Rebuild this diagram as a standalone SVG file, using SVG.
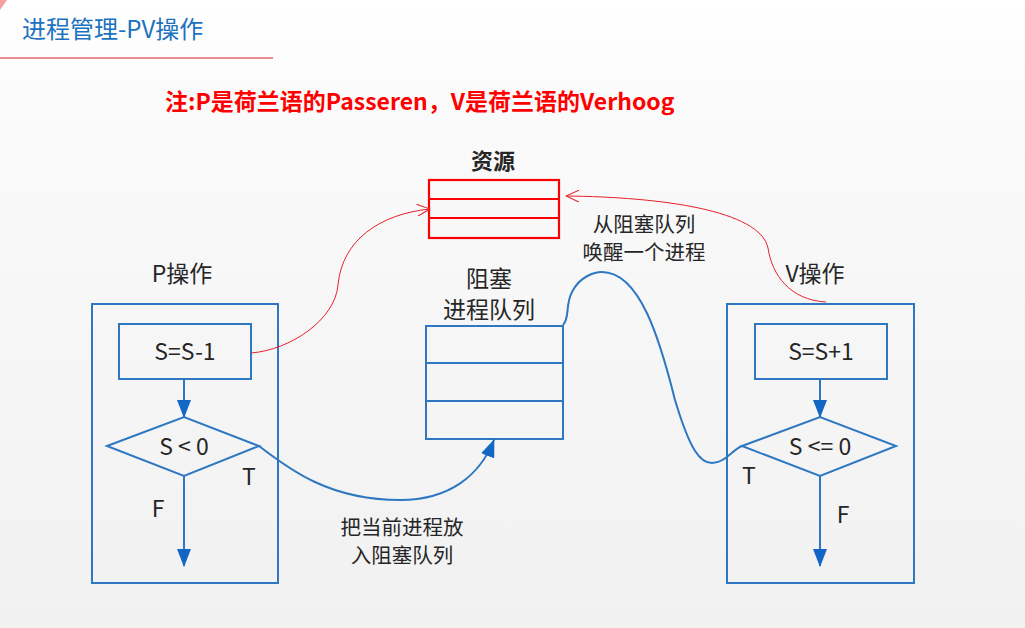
<svg xmlns="http://www.w3.org/2000/svg" width="1025" height="628" viewBox="0 0 1025 628">
<style>
.t{font-family:"Noto Sans CJK SC","Noto Sans",sans-serif;fill:#262626;font-size:23px;text-anchor:middle}
.s{font-size:20.5px}
.b{fill:none;stroke:#2e78c2;stroke-width:2}
.r{fill:none;stroke:#ff0000;stroke-width:2.2}
.rc{fill:none;stroke:#e8202a;stroke-width:1}
.bc{fill:none;stroke:#2e78c2;stroke-width:2}
</style>
<defs>
<linearGradient id="bg" x1="0" y1="0" x2="0" y2="1">
<stop offset="0" stop-color="#ffffff"/>
<stop offset="0.2" stop-color="#fafafa"/>
<stop offset="1" stop-color="#f1f1f1"/>
</linearGradient>
<marker id="ab" viewBox="0 0 18 14" refX="17" refY="7" markerWidth="18" markerHeight="14" markerUnits="userSpaceOnUse" orient="auto">
<path d="M0,0 L18,7 L0,14 z" fill="#1366c4"/>
</marker>
<marker id="ar" viewBox="0 0 14 12" refX="13" refY="6" markerWidth="14" markerHeight="12" markerUnits="userSpaceOnUse" orient="auto">
<path d="M0,0 L13,6 L0,12" fill="none" stroke="#e8202a" stroke-width="1"/>
</marker>
</defs>
<rect width="1025" height="628" fill="url(#bg)"/>
<path d="M0,0 L7,0 L0,10 z" fill="#f4a0a0"/>
<text x="22" y="38" style="font-family:'Noto Sans CJK SC',sans-serif;font-size:24px;fill:#1a72c0">进程管理-PV操作</text>
<line x1="0" y1="58" x2="273" y2="58" stroke="#e02020" stroke-width="1.2"/>
<text x="165" y="110" style="font-family:'Noto Sans CJK SC',sans-serif;font-size:23px;font-weight:bold;fill:#ff0000">注:P是荷兰语的Passeren，V是荷兰语的Verhoog</text>

<g id="resource">
<text class="t" x="493" y="169" font-weight="bold" style="font-size:22px">资源</text>
<rect class="r" x="429" y="180" width="130" height="58"/>
<line class="r" x1="429" y1="199" x2="559" y2="199"/>
<line class="r" x1="429" y1="218" x2="559" y2="218"/>
</g>

<g id="p-op">
<text class="t" x="182" y="282">P操作</text>
<rect class="b" x="92" y="304" width="186" height="279"/>
<rect class="b" x="119" y="324" width="132" height="55"/>
<text class="t" x="185" y="360">S=S-1</text>
<polygon class="b" points="107,446 184,417 259,446 184,476"/>
<text class="t" x="184" y="455">S &lt; 0</text>
<text class="t" x="249" y="485">T</text>
<text class="t" x="158" y="517">F</text>
</g>

<g id="queue">
<text class="t" x="489" y="287">阻塞</text>
<text class="t" x="489" y="318">进程队列</text>
<rect class="b" x="426" y="326" width="137" height="113"/>
<line class="b" x1="426" y1="363" x2="563" y2="363"/>
<line class="b" x1="426" y1="401" x2="563" y2="401"/>
</g>

<g id="v-op">
<text class="t" x="815" y="282">V操作</text>
<rect class="b" x="727" y="304" width="187" height="279"/>
<rect class="b" x="755" y="324" width="132" height="55"/>
<text class="t" x="821" y="360">S=S+1</text>
<polygon class="b" points="742,446 820,417 896,446 820,476"/>
<text class="t" x="820" y="455">S &lt;= 0</text>
<text class="t" x="749" y="484">T</text>
<text class="t" x="843" y="523">F</text>
</g>

<g id="labels">
<text class="t s" x="402" y="535">把当前进程放</text>
<text class="t s" x="402" y="563">入阻塞队列</text>
<text class="t s" x="644" y="232">从阻塞队列</text>
<text class="t s" x="644" y="260">唤醒一个进程</text>
</g>

<g id="connectors">
<line class="bc" x1="184" y1="379" x2="184" y2="417" marker-end="url(#ab)"/>
<line class="bc" x1="184" y1="476" x2="184" y2="566" marker-end="url(#ab)"/>
<line class="bc" x1="820" y1="379" x2="820" y2="417" marker-end="url(#ab)"/>
<line class="bc" x1="820" y1="476" x2="820" y2="566" marker-end="url(#ab)"/>
<path class="bc" d="M259,446 C290,470 330,500 400,500 C450,500 480,475 494,440" marker-end="url(#ab)"/>
<path class="bc" d="M563,325 C570,318 565,305 572,292 C580,276 595,272 602,272 C640,272 660,340 675,400 C690,450 700,463 712,463 C725,463 732,450 742,446"/>
<path class="rc" d="M251,353 C290,350 335,320 338,285 C342,240 380,214 430,209" marker-end="url(#ar)"/>
<path class="rc" d="M826,302 C790,300 772,275 768,248 C760,210 660,197 566,196" marker-end="url(#ar)"/>
</g>
</svg>
